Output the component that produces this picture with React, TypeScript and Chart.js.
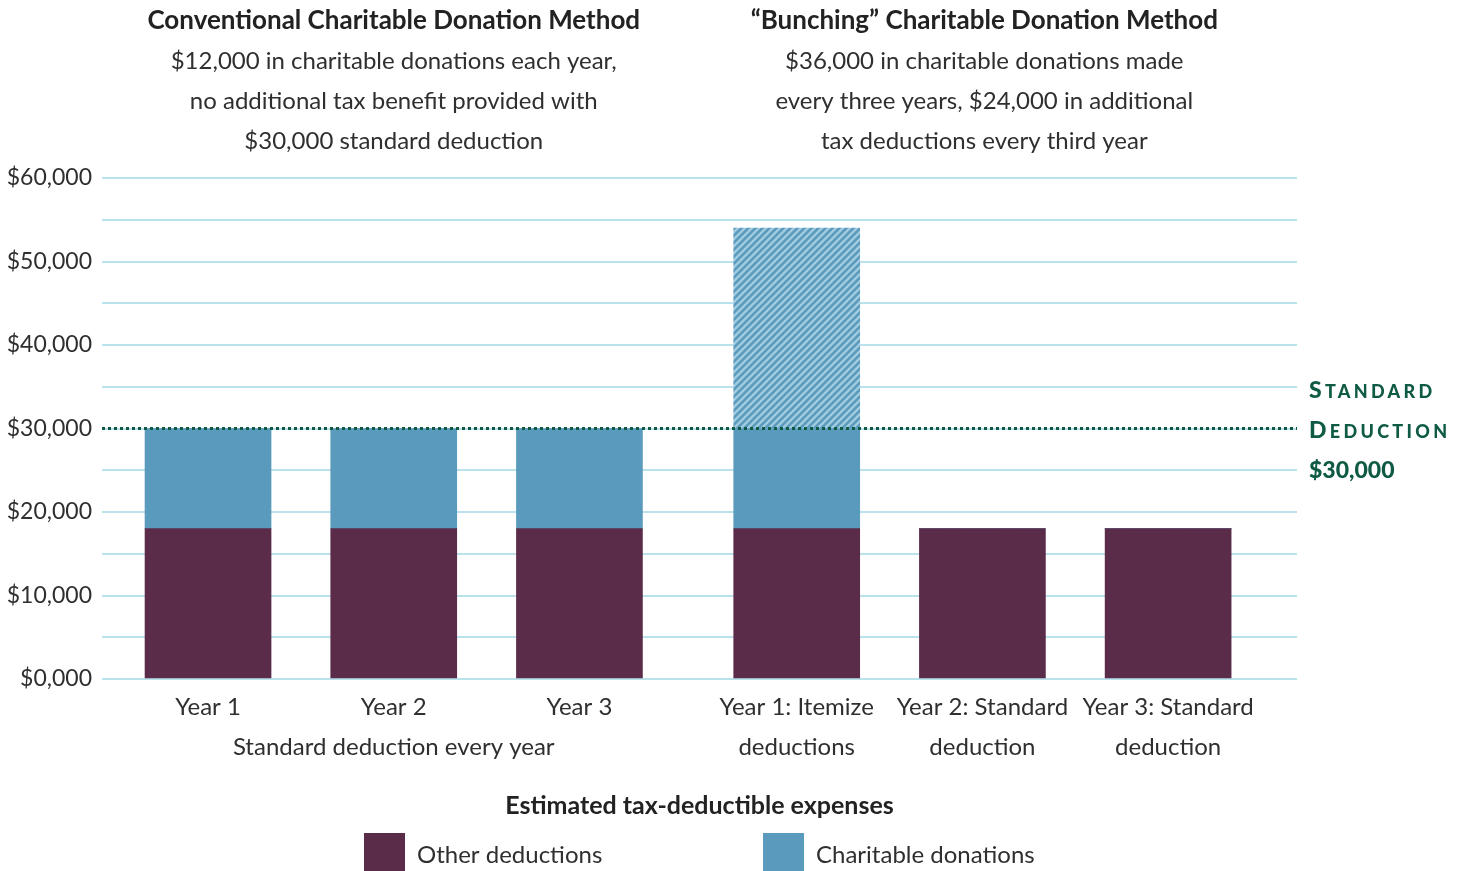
import React, { useEffect, useRef } from "react";
import { Chart, registerables } from "chart.js";

Chart.register(...registerables);

// ---------- data ----------
const CATEGORY_LABELS: string[][] = [
  ["Year 1"],
  ["Year 2", "Standard deduction every year"],
  ["Year 3"],
  ["Year 1: Itemize", "deductions"],
  ["Year 2: Standard", "deduction"],
  ["Year 3: Standard", "deduction"],
];
const X_POSITIONS = [0, 1, 2, 3.17, 4.17, 5.17];
const OTHER_DEDUCTIONS = [18000, 18000, 18000, 18000, 18000, 18000];
const CHARITABLE_DONATIONS = [12000, 12000, 12000, 12000, 0, 0];
const BUNCHED_EXTRA = [0, 0, 0, 24000, 0, 0];
const STANDARD_DEDUCTION = 30000;
const Y_MIN = 0;
const Y_MAX = 60000;
const Y_GRID_STEP = 5000;
const Y_LABEL_STEP = 10000;

const GROUP_CENTERS = [1, 4.18];
const GROUP_TITLES = [
  "Conventional Charitable Donation Method",
  "\u201cBunching\u201d Charitable Donation Method",
];
const GROUP_SUBTITLES = [
  [
    "$12,000 in charitable donations each year,",
    "no additional tax benefit provided with",
    "$30,000 standard deduction",
  ],
  [
    "$36,000 in charitable donations made",
    "every three years, $24,000 in additional",
    "tax deductions every third year",
  ],
];
const LEGEND_TITLE = "Estimated tax-deductible expenses";
const SERIES_NAMES = ["Other deductions", "Charitable donations", "Additional bunched donations"];
const STD_LABEL_WORDS = ["Standard", "Deduction"];
const STD_LABEL_VALUE = "$30,000";

// ---------- styles ----------
const FONT = "Lato, 'Open Sans', sans-serif";
const MAROON = "#5b2c4a";
const BLUE = "#5a9abd";
const HATCH_LIGHT = "#a2cbe0";
const GRID = "#b9e2ec";
const GREEN = "#0f5a44";
const TEXT = "#2f2f2f";

function makeHatch(): CanvasPattern | string {
  const s = 7;
  const c = document.createElement("canvas");
  c.width = s;
  c.height = s;
  const g = c.getContext("2d");
  if (!g) return BLUE;
  g.fillStyle = BLUE;
  g.fillRect(0, 0, s, s);
  g.strokeStyle = HATCH_LIGHT;
  g.lineWidth = 2.4;
  g.beginPath();
  // "/" direction stripes
  g.moveTo(-2, s + 2);
  g.lineTo(s + 2, -2);
  g.moveTo(-2, 2);
  g.lineTo(2, -2);
  g.moveTo(s - 2, s + 2);
  g.lineTo(s + 2, s - 2);
  g.stroke();
  return g.createPattern(c, "repeat") || BLUE;
}

const annotationsPlugin = {
  id: "annotations",
  afterDatasetsDraw(chart: any) {
    const { ctx, chartArea, scales } = chart;
    const yy = scales.y.getPixelForValue(STANDARD_DEDUCTION);
    ctx.save();
    ctx.strokeStyle = GREEN;
    ctx.lineWidth = 3;
    ctx.setLineDash([3, 3]);
    ctx.beginPath();
    ctx.moveTo(chartArea.left, yy);
    ctx.lineTo(chartArea.right, yy);
    ctx.stroke();
    ctx.restore();
  },
  afterDraw(chart: any) {
    const { ctx, chartArea, scales } = chart;
    const x = scales.x;
    ctx.save();
    ctx.textBaseline = "middle";
    ctx.textAlign = "center";
    // group titles
    GROUP_CENTERS.forEach((g, i) => {
      const cx = x.getPixelForValue(g);
      ctx.fillStyle = "#222";
      ctx.font = `bold 26px ${FONT}`;
      ctx.fillText(GROUP_TITLES[i], cx, 21);
      ctx.fillStyle = TEXT;
      ctx.font = `24px ${FONT}`;
      GROUP_SUBTITLES[i].forEach((line, j) => {
        ctx.fillText(line, cx, 61 + j * 40);
      });
    });

    // standard deduction label (small caps)
    ctx.textAlign = "left";
    ctx.textBaseline = "alphabetic";
    ctx.fillStyle = GREEN;
    const lx = chartArea.right + 12;
    (ctx as any).letterSpacing = "3.3px";
    STD_LABEL_WORDS.forEach((w, i) => {
      const base = 398 + i * 40;
      let cx = lx;
      ctx.font = `900 23px ${FONT}`;
      ctx.fillText(w[0].toUpperCase(), cx, base);
      cx += ctx.measureText(w[0].toUpperCase()).width;
      ctx.font = `900 18px ${FONT}`;
      ctx.fillText(w.slice(1).toUpperCase(), cx, base);
    });
    (ctx as any).letterSpacing = "0px";
    ctx.font = `900 23px ${FONT}`;
    ctx.fillText(STD_LABEL_VALUE, lx, 478);

    // legend
    const mid = (chartArea.left + chartArea.right) / 2;
    ctx.textAlign = "center";
    ctx.textBaseline = "middle";
    ctx.fillStyle = "#222";
    ctx.font = `bold 25px ${FONT}`;
    ctx.fillText(LEGEND_TITLE, mid, 806);
    const items = [
      { text: SERIES_NAMES[0], color: MAROON, x: 364 },
      { text: SERIES_NAMES[1], color: BLUE, x: 763 },
    ];
    ctx.textAlign = "left";
    ctx.font = `24px ${FONT}`;
    items.forEach((it) => {
      ctx.fillStyle = it.color;
      ctx.fillRect(it.x, 833, 41, 40);
      ctx.fillStyle = TEXT;
      ctx.fillText(it.text, it.x + 53, 855);
    });
    ctx.restore();
  },
};

export default function App() {
  const ref = useRef<HTMLCanvasElement | null>(null);

  useEffect(() => {
    if (!ref.current) return;
    const hatch = makeHatch();
    const toXY = (arr: number[]) => arr.map((v, i) => ({ x: X_POSITIONS[i], y: v }));
    const chart = new Chart(ref.current, {
      type: "bar",
      data: {
        datasets: [
          { label: SERIES_NAMES[0], data: toXY(OTHER_DEDUCTIONS), backgroundColor: MAROON },
          { label: SERIES_NAMES[1], data: toXY(CHARITABLE_DONATIONS), backgroundColor: BLUE },
          { label: SERIES_NAMES[2], data: toXY(BUNCHED_EXTRA), backgroundColor: hatch as any },
        ] as any,
      },
      options: {
        animation: false,
        responsive: true,
        maintainAspectRatio: false,
        datasets: { bar: { barThickness: 126, borderWidth: 0 } } as any,
        layout: { padding: { top: 178, right: 164, left: 0, bottom: 92 } },
        plugins: {
          legend: { display: false },
          tooltip: { enabled: false },
          title: { display: false },
        },
        scales: {
          x: {
            type: "linear",
            stacked: true,
            min: -0.571,
            max: 5.864,
            offset: false,
            grid: { display: false, offset: false },
            border: { display: false },
            afterBuildTicks: (scale: any) => {
              scale.ticks = X_POSITIONS.map((v) => ({ value: v }));
            },
            afterFit: (scale: any) => {
              scale.height = 100;
            },
            ticks: {
              autoSkip: false,
              maxRotation: 0,
              minRotation: 0,
              padding: 0,
              color: TEXT,
              font: { family: FONT, size: 24, lineHeight: 40 / 24 },
              callback: (_v: any, i: number) => CATEGORY_LABELS[i],
            },
          } as any,
          y: {
            stacked: true,
            min: Y_MIN,
            max: Y_MAX,
            grid: { color: GRID, lineWidth: 2, drawTicks: false },
            border: { display: false },
            afterFit: (scale: any) => {
              scale.width = 102;
            },
            ticks: {
              stepSize: Y_GRID_STEP,
              padding: 10,
              color: TEXT,
              font: { family: FONT, size: 23 },
              callback: (v: any) =>
                Number(v) % Y_LABEL_STEP === 0 ? `$${Number(v) / 1000},000` : "",
            },
          },
        },
      },
      plugins: [annotationsPlugin],
    });
    return () => chart.destroy();
  }, []);

  return (
    <div style={{ position: "fixed", left: 0, top: 0, width: 1461, height: 871, background: "#fff" }}>
      <canvas ref={ref} />
    </div>
  );
}
